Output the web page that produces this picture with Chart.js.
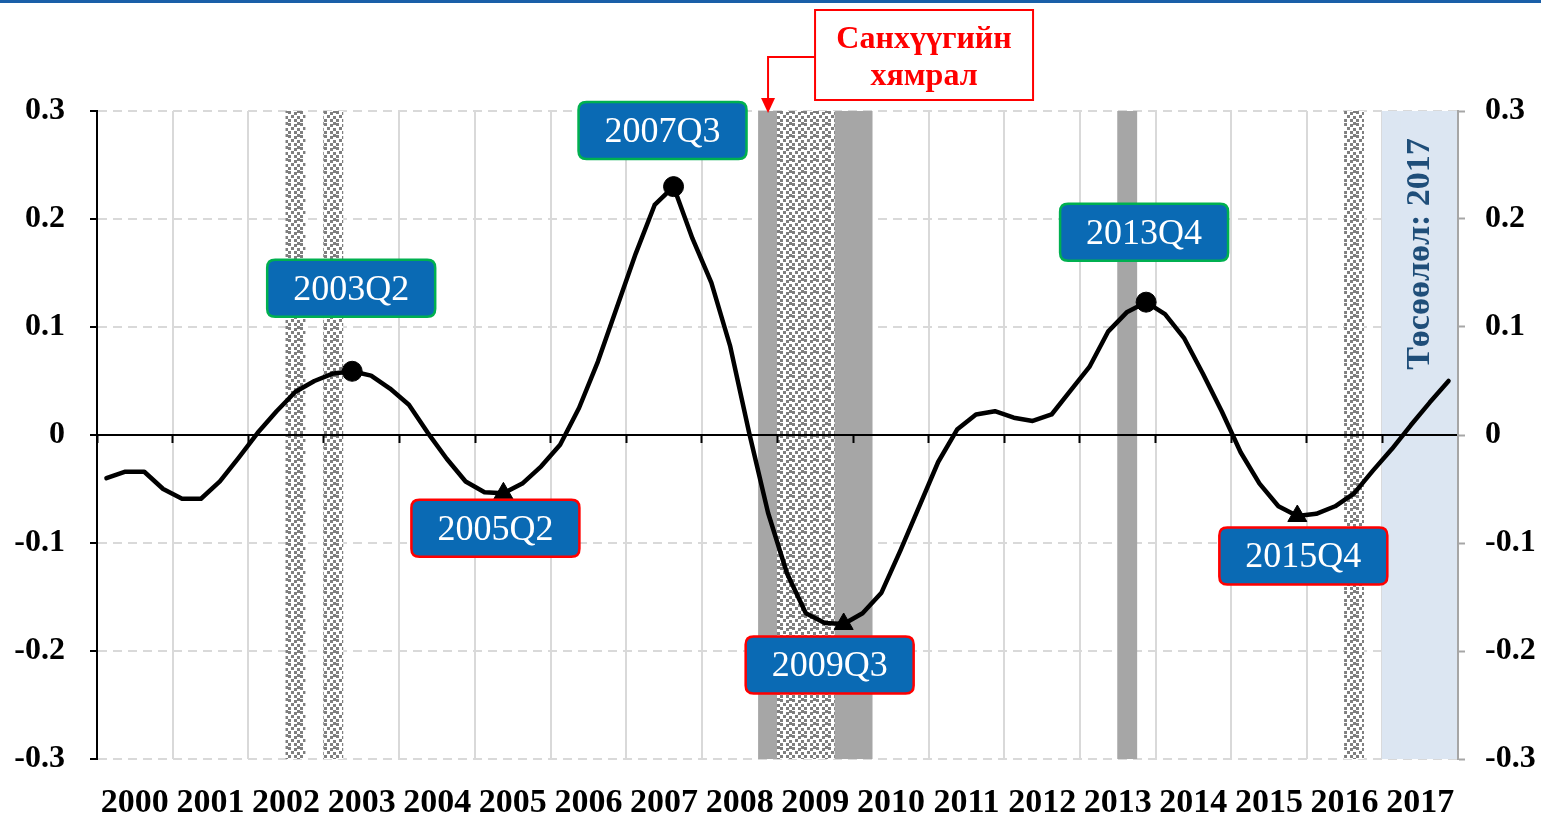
<!DOCTYPE html>
<html><head><meta charset="utf-8">
<style>
html,body{margin:0;padding:0;background:#fff;}
#wrap{width:1541px;height:813px;border-top:3px solid #1a5fa8;position:relative;}
canvas{display:block;}
</style>
<script src="https://cdn.jsdelivr.net/npm/chart.js@4.4.0/dist/chart.umd.min.js"></script>
</head><body><div id="wrap"><canvas id="c" width="1541" height="813"></canvas></div>
<script>
// ---------------- data ----------------
const years = ['2000','2001','2002','2003','2004','2005','2006','2007','2008','2009','2010','2011','2012','2013','2014','2015','2016','2017'];
const quarterNames = ['Q1','Q2','Q3','Q4'];
const quarters = years.flatMap(y => quarterNames.map(q => y + q));
const gapValues = [
  -0.040, -0.034, -0.034, -0.050,   // 2000
  -0.059, -0.059, -0.043, -0.021,   // 2001
   0.002,  0.022,  0.040,  0.050,   // 2002
   0.057,  0.059,  0.055,  0.043,   // 2003
   0.028,  0.002, -0.022, -0.043,   // 2004
  -0.053, -0.054, -0.045, -0.029,   // 2005
  -0.009,  0.025,  0.068,  0.118,   // 2006
   0.168,  0.213,  0.230,  0.182,   // 2007
   0.141,  0.082,  0.002, -0.072,   // 2008
  -0.128, -0.165, -0.174, -0.175,   // 2009
  -0.165, -0.146, -0.107, -0.066,   // 2010
  -0.025,  0.005,  0.019,  0.022,   // 2011
   0.016,  0.013,  0.019,  0.041,   // 2012
   0.063,  0.096,  0.114,  0.123,   // 2013
   0.112,  0.090,  0.057,  0.022,   // 2014
  -0.016, -0.045, -0.066, -0.075,   // 2015
  -0.073, -0.066, -0.054, -0.033,   // 2016
  -0.013,  0.009,  0.030,  0.050    // 2017
];
// marker positions (quarters) and the texts of their labels
const peakQuarters = ['2003Q2', '2007Q3', '2013Q4'];
const peakLabels   = ['2003Q2', '2007Q3', '2013Q4'];
const troughQuarters = ['2005Q2', '2009Q4', '2015Q4'];
const troughLabels   = ['2005Q2', '2009Q3', '2015Q4'];
const solidBandQuarters = ['2008Q4', '2009Q4', '2010Q1', '2013Q3'];
const checkerBandQuarters = ['2002Q3', '2003Q1', '2009Q1', '2009Q2', '2009Q3', '2016Q3'];
const forecastQuarters = ['2017Q1', '2017Q2', '2017Q3', '2017Q4'];
const yTicks = [-0.3, -0.2, -0.1, 0, 0.1, 0.2, 0.3];
const crisisQuarter = '2008Q4';
const crisisText = ['Санхүүгийн', 'хямрал'];
const forecastText = 'Төсөөлөл: 2017';

// ---------------- layout / styles ----------------
const FONT = "'Liberation Serif', 'Times New Roman', serif";
const peakOffsets = [[-1, -83], [-11, -56], [-2, -70]];     // label box centre offsets from point (px)
const troughOffsets = [[-8, 35], [-14, 41], [6, 40]];
const yMin = yTicks[0], yMax = yTicks[yTicks.length - 1];

const canvas = document.getElementById('c');
const mainCtx = canvas.getContext('2d');
function makeChecker() {
  const t = document.createElement('canvas');
  t.width = 12; t.height = 12;
  const g = t.getContext('2d');
  g.fillStyle = '#ffffff'; g.fillRect(0, 0, 12, 12);
  g.fillStyle = '#7f7f7f';
  [[0,0],[6,1],[3,4],[9,5],[0,8],[6,8],[9,11]].forEach(([x, y]) => g.fillRect(x, y, 3, 3));
  g.fillRect(9, 0, 3, 2);
  return mainCtx.createPattern(t, 'repeat');
}
const checker = makeChecker();
const bandData = list => quarters.map(q => list.includes(q) ? [yMin, yMax] : null);
const fmt = v => { const r = Math.round(v * 10) / 10; return r === 0 ? '0' : String(r); };
const barCommon = { type: 'bar', xAxisID: 'x', yAxisID: 'y', barPercentage: 1, categoryPercentage: 1, grouped: false, borderWidth: 0, inflateAmount: 0.5 };

function roundRect(ctx, x, y, w, h, r) {
  ctx.beginPath();
  ctx.moveTo(x + r, y);
  ctx.lineTo(x + w - r, y); ctx.quadraticCurveTo(x + w, y, x + w, y + r);
  ctx.lineTo(x + w, y + h - r); ctx.quadraticCurveTo(x + w, y + h, x + w - r, y + h);
  ctx.lineTo(x + r, y + h); ctx.quadraticCurveTo(x, y + h, x, y + h - r);
  ctx.lineTo(x, y + r); ctx.quadraticCurveTo(x, y, x + r, y);
  ctx.closePath();
}

const annotations = {
  id: 'annotations',
  afterDatasetsDraw(chart) {
    const ctx = chart.ctx, xs = chart.scales.x, area = chart.chartArea;
    ctx.save();
    // forecast vertical text
    const fx = (xs.getPixelForValue(quarters.indexOf(forecastQuarters[1])) + xs.getPixelForValue(quarters.indexOf(forecastQuarters[2]))) / 2;
    ctx.translate(fx, area.top + 143);
    ctx.rotate(-Math.PI / 2);
    ctx.fillStyle = '#1f4e79';
    ctx.font = 'bold 34px ' + FONT;
    ctx.textAlign = 'center'; ctx.textBaseline = 'middle';
    ctx.fillText(forecastText, 0, 0);
    ctx.restore();

    // crisis callout
    ctx.save();
    const ax = xs.getPixelForValue(quarters.indexOf(crisisQuarter));
    const bx = ax + 47, by = area.top - 101, bw = 218, bh = 90;
    ctx.fillStyle = '#fff'; ctx.fillRect(bx, by, bw, bh);
    ctx.strokeStyle = '#ff0000'; ctx.lineWidth = 2;
    ctx.strokeRect(bx, by, bw, bh);
    ctx.beginPath();
    ctx.moveTo(bx, by + 47); ctx.lineTo(ax, by + 47); ctx.lineTo(ax, area.top - 12);
    ctx.stroke();
    ctx.fillStyle = '#ff0000';
    ctx.beginPath();
    ctx.moveTo(ax - 7, area.top - 13); ctx.lineTo(ax + 7, area.top - 13); ctx.lineTo(ax, area.top + 2);
    ctx.closePath(); ctx.fill();
    ctx.font = 'bold 32px ' + FONT;
    ctx.textAlign = 'center'; ctx.textBaseline = 'alphabetic';
    ctx.fillText(crisisText[0], bx + bw / 2, by + 38);
    ctx.fillText(crisisText[1], bx + bw / 2, by + 75);
    ctx.restore();

    // turning point labels
    const meta = chart.getDatasetMeta(0);
    ctx.save();
    ctx.font = '36px ' + FONT;
    ctx.textAlign = 'center'; ctx.textBaseline = 'middle';
    const drawLabel = (q, text, off, edge) => {
      const el = meta.data[quarters.indexOf(q)];
      const w = 168, h = 57;
      const cx = el.x + off[0], cy = el.y + off[1];
      roundRect(ctx, cx - w / 2, cy - h / 2, w, h, 8);
      ctx.fillStyle = '#0a6ab4'; ctx.fill();
      ctx.lineWidth = 2.5; ctx.strokeStyle = edge; ctx.stroke();
      ctx.fillStyle = '#ffffff';
      ctx.fillText(text, cx, cy + 2);
    };
    peakQuarters.forEach((q, i) => drawLabel(q, peakLabels[i], peakOffsets[i], '#00b050'));
    troughQuarters.forEach((q, i) => drawLabel(q, troughLabels[i], troughOffsets[i], '#ff0000'));
    ctx.restore();
  }
};

const yTickFont = { family: FONT, size: 32, weight: 'bold' };

new Chart(canvas, {
  type: 'bar',
  data: {
    labels: quarters,
    datasets: [
      {
        type: 'line', label: 'gap', data: gapValues, xAxisID: 'x', yAxisID: 'y',
        borderColor: '#000', borderWidth: 4.5, tension: 0, order: 0,
        pointRadius: c => peakQuarters.includes(quarters[c.dataIndex]) ? 10 : (troughQuarters.includes(quarters[c.dataIndex]) ? 11 : 0),
        pointStyle: c => troughQuarters.includes(quarters[c.dataIndex]) ? 'triangle' : 'circle',
        pointBackgroundColor: '#000', pointBorderColor: '#000', pointBorderWidth: 1,
        borderJoinStyle: 'round', borderCapStyle: 'round'
      },
      Object.assign({ label: 'checker', data: bandData(checkerBandQuarters), backgroundColor: checker, order: 1 }, barCommon),
      Object.assign({ label: 'solid', data: bandData(solidBandQuarters), backgroundColor: '#a6a6a6', order: 2 }, barCommon),
      Object.assign({ label: 'forecast', data: bandData(forecastQuarters), backgroundColor: '#dce6f2', order: 3 }, barCommon)
    ]
  },
  options: {
    responsive: false, animation: false, devicePixelRatio: 1,
    layout: { padding: { top: 108, left: 0, right: 0, bottom: 0 } },
    plugins: { legend: { display: false }, tooltip: { enabled: false } },
    scales: {
      x: {
        type: 'category', position: { y: 0 }, offset: true,
        grid: { offset: true, lineWidth: 2, drawTicks: false, z: -1,
          color: c => (c.index !== undefined && c.index % 4 === 0) ? '#d9d9d9' : 'rgba(0,0,0,0)' },
        border: { display: false }, ticks: { display: false }
      },
      xLine: {
        type: 'category', position: { y: 0 }, offset: true,
        grid: { offset: true, drawOnChartArea: false, drawTicks: true, tickLength: 7, tickWidth: 2, z: 1,
          tickColor: c => (c.index !== undefined && c.index % 4 === 0) ? '#000' : 'rgba(0,0,0,0)' },
        border: { display: true, color: '#000', width: 2, z: 1 }, ticks: { display: false }
      },
      xYear: {
        type: 'linear', position: 'bottom', min: 0, max: years.length, offset: false,
        afterBuildTicks: s => { s.ticks = years.map((y, i) => ({ value: i + 0.5 })); },
        afterFit: s => { s.height = 57; },
        ticks: { callback: (v, i) => years[i], autoSkip: false, maxRotation: 0, minRotation: 0, padding: 24, color: '#000',
          font: { family: FONT, size: 34, weight: 'bold' } },
        grid: { display: false, drawTicks: false, offset: false }, border: { display: false }
      },
      y: {
        position: 'left', min: yMin, max: yMax,
        afterBuildTicks: s => { s.ticks = yTicks.map(v => ({ value: v })); },
        afterFit: s => { s.width = 97; },
        ticks: { callback: v => fmt(v), padding: 25, color: '#000', font: yTickFont },
        grid: { color: '#d9d9d9', lineWidth: 2, tickColor: '#000', tickLength: 7, tickWidth: 2, tickBorderDash: [] },
        border: { color: '#000', width: 2, dash: [9, 6] }
      },
      y2: {
        position: 'right', min: yMin, max: yMax,
        afterBuildTicks: s => { s.ticks = yTicks.map(v => ({ value: v })); },
        afterFit: s => { s.width = 83; },
        ticks: { callback: v => fmt(v), padding: 20, color: '#000', font: yTickFont },
        grid: { drawOnChartArea: false, tickColor: '#a6a6a6', tickLength: 7, tickWidth: 2 },
        border: { color: '#a6a6a6', width: 2, z: 1 }
      }
    }
  },
  plugins: [annotations]
});
</script>
</body></html>
